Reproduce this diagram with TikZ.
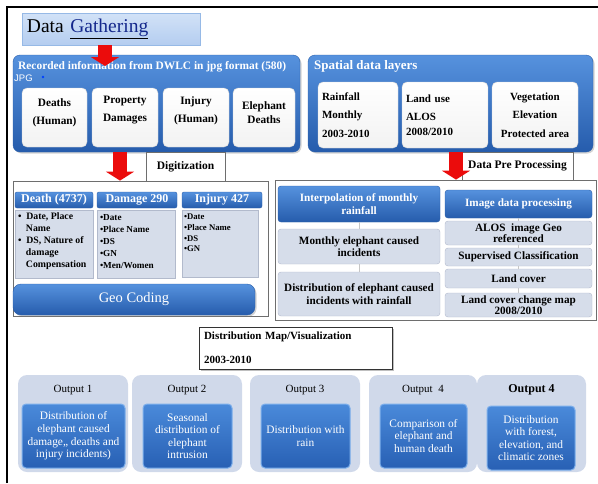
\documentclass[tikz,border=0pt]{standalone}
\usepackage{fontspec}
\setmainfont{Liberation Serif}
\newfontfamily\sansjpg{Liberation Sans}
\usepackage{tikz}
\usetikzlibrary{arrows.meta, positioning, calc, shadows}
\definecolor{layerbluetop}{RGB}{86,146,222}
\definecolor{layerbluebot}{RGB}{38,92,172}
\definecolor{layeredge}{RGB}{44,96,170}
\definecolor{gatherbg}{RGB}{210,226,247}
\definecolor{gatherbgbot}{RGB}{180,205,240}
\definecolor{gatheredge}{RGB}{150,185,230}
\definecolor{gathertext}{RGB}{20,40,140}
\definecolor{listbg}{RGB}{214,221,234}
\definecolor{listedge}{RGB}{178,186,204}
\definecolor{outbg}{RGB}{208,217,234}
\definecolor{outinnertop}{RGB}{74,138,218}
\definecolor{outinnerbot}{RGB}{40,96,180}
\definecolor{outinneredge}{RGB}{125,175,235}
\definecolor{panelgray}{RGB}{110,110,110}
\definecolor{arrowred}{RGB}{235,12,12}

\begin{document}
\begin{tikzpicture}[x=1pt, y=-1pt,
  gatherbox/.style={rectangle, draw=gatheredge, top color=gatherbg, bottom color=gatherbgbot,
                    inner xsep=5pt, text width=168pt, align=left,
                    font=\fontsize{19.5}{22}\selectfont},
  layerbox/.style={rectangle, rounded corners=7pt, draw=layeredge, top color=layerbluetop,
                   bottom color=layerbluebot,
                   drop shadow={opacity=0.35, shadow xshift=1.5pt, shadow yshift=-1.5pt}},
  boxtitle/.style={anchor=north west, inner sep=0pt, text=white},
  card/.style={rectangle, rounded corners=5pt, draw=gray!35, top color=white, bottom color=gray!10,
               align=center, inner sep=1pt, font=\bfseries\fontsize{11.3}{18}\selectfont},
  labelbox/.style={rectangle, draw=panelgray, fill=white, font=\bfseries\fontsize{11.5}{13}\selectfont},
  panelbox/.style={rectangle, draw=panelgray, line width=0.8pt},
  colhead/.style={rectangle, rounded corners=2pt, draw=layeredge, top color=layerbluetop,
                  bottom color=layerbluebot, text=white, inner sep=0pt,
                  font=\bfseries\fontsize{12}{14}\selectfont},
  listbox/.style={rectangle, fill=listbg, draw=listedge,
                  drop shadow={opacity=0.3, shadow xshift=1pt, shadow yshift=-1pt}},
  listtext/.style={anchor=north west, align=left, inner sep=0pt},
  stepbox/.style={rectangle, rounded corners=3pt, fill=listbg, draw=listedge, align=center,
                  inner sep=1pt, font=\bfseries\fontsize{11.2}{12.5}\selectfont},
  bluestep/.style={stepbox, draw=layeredge, top color=layerbluetop, bottom color=layerbluebot,
                   text=white},
  tick/.style={draw=gray!45, line width=0.7pt},
  mapbox/.style={rectangle, draw=black!80, fill=white, line width=0.8pt, align=left,
                 text width=183pt, font=\bfseries\fontsize{11}{12}\selectfont,
                 drop shadow={opacity=0.5, shadow xshift=2pt, shadow yshift=-2pt}},
  outbox/.style={rectangle, rounded corners=9pt, fill=outbg},
  outlabel/.style={font=\fontsize{11}{13}\selectfont},
  outinner/.style={rectangle, rounded corners=4pt, draw=outinneredge, line width=1pt,
                   top color=outinnertop, bottom color=outinnerbot, text=white, align=center,
                   inner sep=0pt, font=\fontsize{11.4}{12.6}\selectfont},
  bigarrow/.style={line width=14pt, arrowred, -{Triangle[width=28pt,length=9pt]}}
]
\useasboundingbox (0,0) rectangle (598,483);
% page frame
\draw[line width=1.3pt] (7,483) -- (7,7) -- (598,7);

% data gathering
\node[gatherbox, minimum width=178, minimum height=32] (gather) at (111,29)
  {Data \underline{\textcolor{gathertext}{Gathering}}};

\node[layerbox, minimum width=287, minimum height=97] (rec) at (156.5,103.5) {};
\node[boxtitle, font=\bfseries\fontsize{11.4}{13}\selectfont] (rectitle) at (18,61)
  {Recorded information from DWLC in jpg format (580)};
\node[boxtitle, font=\sansjpg\fontsize{9.5}{11}\selectfont] (jpg) at (14,75) {JPG};
\fill[blue!75!cyan] (43,77) circle (1.4);
\node[card, minimum width=65, minimum height=59] (deaths) at (54.5,117.5)
  {Deaths\\(Human)\\[-6pt]\mbox{}};
\node[card, minimum width=66, minimum height=59] (property) at (125,117.5)
  {Property\\Damages\\\mbox{}};
\node[card, minimum width=66, minimum height=59] (injury) at (196,117.5)
  {Injury\\(Human)\\[-3pt]\mbox{}};
\node[card, minimum width=62, minimum height=59, font=\bfseries\fontsize{11.3}{14}\selectfont]
  (eledeaths) at (264,117.5) {Elephant\\Deaths\\[-4pt]\mbox{}};

\node[layerbox, minimum width=285, minimum height=97] (spatial) at (450.5,103.5) {};
\node[boxtitle, font=\bfseries\fontsize{13}{15}\selectfont] (spatialtitle) at (314,60)
  {Spatial data layers};
\node[card, align=left, text width=72pt, minimum width=80, minimum height=66,
      font=\bfseries\fontsize{11}{18.5}\selectfont] (rainfall) at (358,115)
  {Rainfall\\Monthly\\2003-2010};
\node[card, align=left, text width=78pt, minimum width=86, minimum height=66,
      font=\bfseries\fontsize{11}{15}\selectfont] (landuse) at (445,115)
  {Land use\\[3pt]ALOS\\2008/2010};
\node[card, minimum width=86, minimum height=66,
      font=\bfseries\fontsize{11}{18.5}\selectfont] (vegetation) at (535,115)
  {Vegetation\\Elevation\\Protected area};

\coordinate (a1) at (105,66);
\draw[bigarrow] (gather.south -| a1) -- (a1);

% digitization
\node[labelbox, minimum width=79, minimum height=29] (digit) at (185.5,166.5) {Digitization};
\node[panelbox, minimum width=255, minimum height=135] (digipanel) at (140.5,248.5) {};
\coordinate (a2) at (120,0);
\draw[bigarrow] (rec.south -| a2) -- (a2 |- digipanel.north);

\node[colhead, minimum width=78, minimum height=16] (hdeath) at (54,200) {Death (4737)};
\node[colhead, minimum width=80, minimum height=16] (hdamage) at (137,200) {Damage 290};
\node[colhead, minimum width=80, minimum height=16] (hinjury) at (222,200) {Injury 427};
\node[listbox, minimum width=78, minimum height=68] (ldeath) at (54,244) {};
\node[listbox, minimum width=78, minimum height=68] (ldamage) at (136,244) {};
\node[listbox, minimum width=76, minimum height=67] (linjury) at (220,243.5) {};
\node[listtext, font=\bfseries\fontsize{9.8}{11.8}\selectfont] (tdeath)
  at ([shift={(3,3)}]ldeath.north west)
  {\textbullet\ \ Date, Place\\\hspace*{8pt}Name\\\textbullet\ \ DS, Nature of\\\hspace*{8pt}damage\\\hspace*{8pt}Compensation};
\node[listtext, font=\bfseries\fontsize{9.2}{12}\selectfont] (tdamage)
  at ([shift={(3,4)}]ldamage.north west)
  {\textbullet Date\\\textbullet Place Name\\\textbullet DS\\\textbullet GN\\\textbullet Men/Women};
\node[listtext, font=\bfseries\fontsize{8.7}{10.7}\selectfont] (tinjury)
  at ([shift={(2,4)}]linjury.north west)
  {\textbullet Date\\\textbullet Place Name\\\textbullet DS\\\textbullet GN};
\node[layerbox, rounded corners=8pt, minimum width=242, minimum height=31, text=white,
      font=\fontsize{14.5}{17}\selectfont] (geocoding) at (134,299.5) {Geo Coding};

% pre processing
\node[labelbox, minimum width=111, minimum height=28] (preproc) at (517.5,166) {Data Pre Processing};
\node[panelbox, minimum width=321, minimum height=140] (prepanel) at (435.5,250) {};
\coordinate (a3) at (456,0);
\draw[bigarrow] (spatial.south -| a3) -- (a3 |- prepanel.north);

\node[bluestep, minimum width=162, minimum height=36] (interp) at (359,204)
  {Interpolation of monthly\\rainfall};
\node[stepbox, minimum width=162, minimum height=35] (monthly) at (359,246.5)
  {Monthly elephant caused\\incidents};
\node[stepbox, minimum width=162, minimum height=44] (distrib) at (359,294)
  {Distribution of elephant caused\\incidents with rainfall};
\node[bluestep, minimum width=147, minimum height=28] (imgproc) at (518.5,204) {Image data processing};
\node[stepbox, minimum width=147, minimum height=24, inner sep=0pt,
      font=\bfseries\fontsize{11.2}{11}\selectfont] (alos) at (518.5,233)
  {ALOS \ image Geo\\referenced};
\node[stepbox, minimum width=147, minimum height=18] (superv) at (518.5,257) {Supervised Classification};
\node[stepbox, minimum width=147, minimum height=19] (landcov) at (518.5,278.5) {Land cover};
\node[stepbox, minimum width=147, minimum height=24, inner sep=0pt,
      font=\bfseries\fontsize{11.2}{11}\selectfont] (change) at (518.5,305)
  {Land cover change map\\2008/2010};
\draw[tick] (interp) -- (monthly);
\draw[tick] (monthly) -- (distrib);
\draw[tick] (imgproc) -- (alos);
\draw[tick] (alos) -- (superv);
\draw[tick] (superv) -- (landcov);
\draw[tick] (landcov) -- (change);

% outputs
\node[mapbox, minimum width=193, minimum height=42] (distmap) at (295.5,348)
  {Distribution Map/Visualization\\[12pt]2003-2010};

\node[outbox, minimum width=110, minimum height=97] (o1) at (73,423.5) {};
\node[outbox, minimum width=110, minimum height=97] (o2) at (187,423.5) {};
\node[outbox, minimum width=110, minimum height=97] (o3) at (305,423.5) {};
\node[outbox, minimum width=108, minimum height=97] (o4) at (423,423.5) {};
\node[outbox, minimum width=109, minimum height=97] (o5) at (531.5,423.5) {};
\node[outlabel] (l1) at (73,390) {Output 1};
\node[outlabel] (l2) at (187,390) {Output 2};
\node[outlabel] (l3) at (305,390) {Output 3};
\node[outlabel] (l4) at (423,390) {Output \ 4};
\node[outlabel, font=\bfseries\fontsize{12}{14}\selectfont] (l5) at (531.5,390) {Output 4};
\node[outinner, minimum width=103, minimum height=64] (i1) at (73.5,436)
  {Distribution of\\elephant caused\\damage,, deaths and\\injury incidents)};
\node[outinner, minimum width=89, minimum height=64] (i2) at (187.5,436)
  {Seasonal\\distribution of\\elephant\\intrusion};
\node[outinner, minimum width=89, minimum height=64] (i3) at (305.5,436)
  {Distribution with\\rain};
\node[outinner, minimum width=87, minimum height=64] (i4) at (423.5,436)
  {Comparison of\\elephant and\\human death};
\node[outinner, minimum width=88, minimum height=64] (i5) at (531,438)
  {Distribution\\with forest,\\elevation, and\\climatic zones};
\end{tikzpicture}
\end{document}
